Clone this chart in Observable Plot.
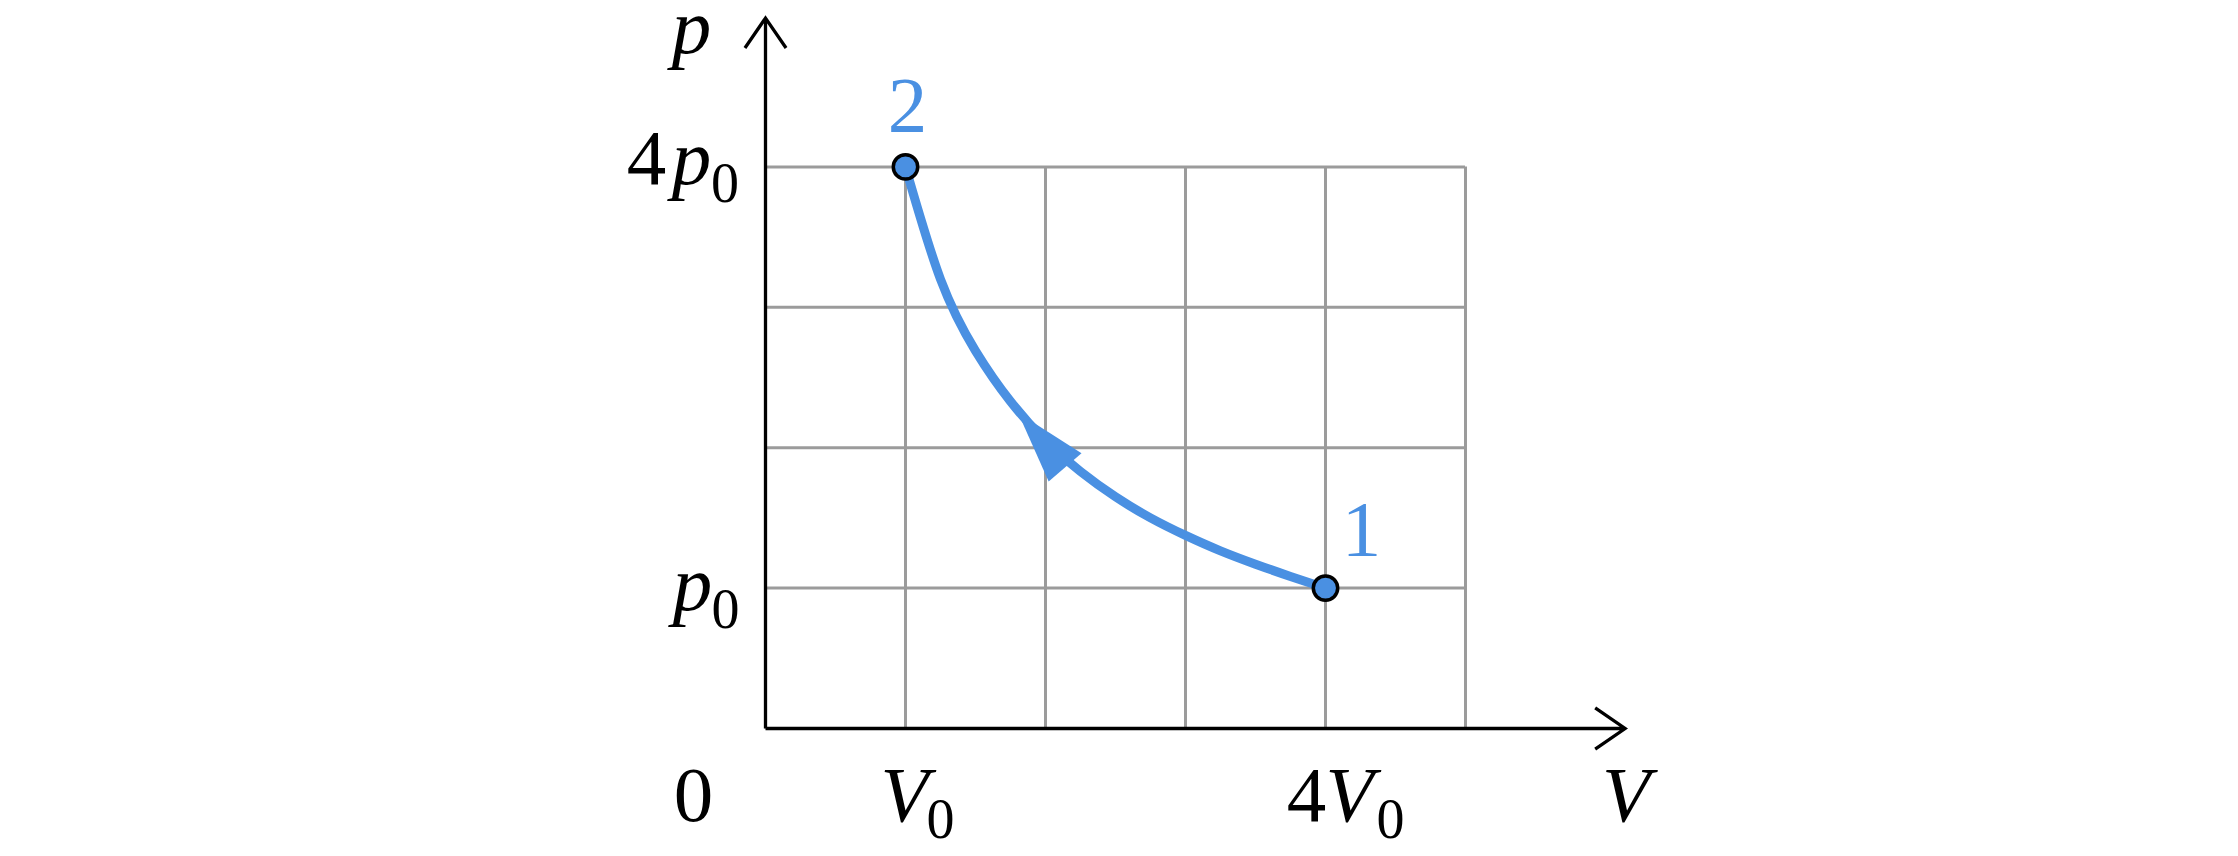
<!DOCTYPE html>
<html>
<head>
<meta charset="utf-8">
<script src="https://cdn.jsdelivr.net/npm/d3@7"></script>
<script src="https://cdn.jsdelivr.net/npm/@observablehq/plot@0.6"></script>
<style>
  html, body { margin: 0; padding: 0; background: #fff; overflow: hidden; }
  #chart svg { display: block; }
</style>
</head>
<body>
<div id="chart"></div>
<script>
// ---- data (V in units of V0, p in units of p0) ----
const gridV = [1, 2, 3, 4, 5];
const gridP = [1, 2, 3, 4];
const curveV = [1, 1.25, 1.5, 1.75, 2, 2.25, 2.5, 2.75, 3, 3.25, 3.5, 3.75, 4];
const curveP = [4, 3.2, 2.69, 2.33, 2.05, 1.83, 1.65, 1.5, 1.375, 1.265, 1.17, 1.083, 1];
const stateNames = ["1", "2"];
const stateV = [4, 1];
const stateP = [1, 4];
const axisEndV = [6.14];
const axisEndP = [5.06];
const arrowV = [2.14];
const arrowP = [1.86];
const xTickV = [0, 1, 4];
const yTickP = [1, 4];

const curve = curveV.map((V, i) => ({V, p: curveP[i]}));
const states = stateNames.map((name, i) => ({name, V: stateV[i], p: stateP[i]}));

const BLUE = "#4a90e2";
const GRID = "#9b9b9b";
const FONT = "'Liberation Serif', 'DejaVu Serif', serif";
const MAIN = 79, SUB = 56;

function label(data, x, y, text, dx, dy, opts = {}) {
  return Plot.text(data, {
    x, y, text: () => text, dx, dy,
    fontSize: opts.size || MAIN,
    fontStyle: opts.italic ? "italic" : "normal",
    fontFamily: FONT,
    fill: opts.fill || "black",
    textAnchor: "middle",
    lineAnchor: "bottom"
  });
}

const triangle = {
  draw(context, l, r) {
    context.moveTo(0, -l);
    context.lineTo(-r, 0);
    context.lineTo(r, 0);
    context.closePath();
  }
};

const chart = Plot.plot({
  width: 2238,
  height: 856,
  marginLeft: 765,
  marginRight: 633,
  marginTop: 26,
  marginBottom: 128,
  x: {domain: [0, 6], axis: null},
  y: {domain: [0, 5], axis: null},
  style: {background: "#fff", overflow: "visible"},
  marks: [
    // grid
    Plot.ruleX(gridV, {x: d => d, y1: 0, y2: gridP[gridP.length - 1], stroke: GRID, strokeWidth: 3}),
    Plot.ruleY(gridP, {y: d => d, x1: 0, x2: gridV[gridV.length - 1], stroke: GRID, strokeWidth: 3}),
    // axes with arrows
    Plot.arrow(axisEndV, {x1: 0, y1: 0, x2: d => d, y2: 0, stroke: "black", strokeWidth: 3.3,
      headLength: 16.5, headAngle: 69, strokeLinecap: "butt", strokeMiterlimit: 10}),
    Plot.arrow(axisEndP, {x1: 0, y1: 0, x2: 0, y2: d => d, stroke: "black", strokeWidth: 3.3,
      headLength: 16.5, headAngle: 69, strokeLinecap: "butt", strokeMiterlimit: 10}),
    // isotherm 1 -> 2
    Plot.line(curve, {x: "V", y: "p", stroke: BLUE, strokeWidth: 9, curve: "natural"}),
    // arrowhead
    Plot.vector(arrowV.map((V, i) => ({V, p: arrowP[i]})), {
      x: "V", y: "p", length: 72, rotate: -40.8, r: 21.7, anchor: "start",
      shape: triangle, fill: BLUE, stroke: "none"
    }),
    // states
    Plot.dot(states, {x: "V", y: "p", r: 12.2, fill: BLUE, stroke: "black", strokeWidth: 3.5}),
    // state labels
    label(states.filter(d => d.name === "2"), "V", "p", "2", 2, -36.4, {fill: BLUE}),
    label(states.filter(d => d.name === "1"), "V", "p", "1", 36, -33.6, {fill: BLUE}),
    // V-axis tick labels
    label([xTickV[0]], d => d, () => 0, "0", -72, 92),
    label([xTickV[1]], d => d, () => 0, "V", -1, 92, {italic: true}),
    label([xTickV[1]], d => d, () => 0, "0", 35, 109, {size: SUB}),
    label([xTickV[2]], d => d, () => 0, "4", -19, 92),
    label([xTickV[2]], d => d, () => 0, "V", 24, 92, {italic: true}),
    label([xTickV[2]], d => d, () => 0, "0", 65, 109, {size: SUB}),
    label(axisEndV, d => d, () => 0, "V", 1, 92, {italic: true}),
    // p-axis tick labels
    label(axisEndP, () => 0, d => d, "p", -74, 35, {italic: true}),
    label([yTickP[1]], () => 0, d => d, "4", -119, 17.5),
    label([yTickP[1]], () => 0, d => d, "p", -74, 17.5, {italic: true}),
    label([yTickP[1]], () => 0, d => d, "0", -40.5, 35.5, {size: SUB}),
    label([yTickP[0]], () => 0, d => d, "p", -73, 21.4, {italic: true}),
    label([yTickP[0]], () => 0, d => d, "0", -40, 39.4, {size: SUB})
  ]
});

document.getElementById("chart").append(chart);
</script>
</body>
</html>
